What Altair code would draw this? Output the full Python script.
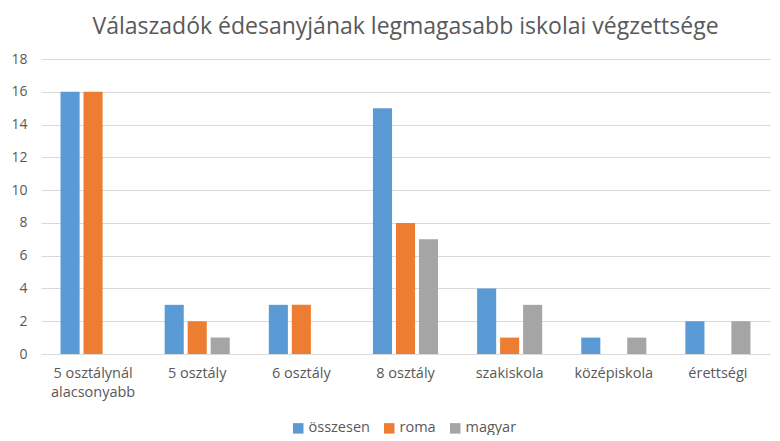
import altair as alt
import pandas as pd

categories = ["5 osztálynál alacsonyabb", "5 osztály", "6 osztály", "8 osztály",
              "szakiskola", "középiskola", "érettségi"]
series = ["összesen", "roma", "magyar"]
osszesen = [16, 3, 3, 15, 4, 1, 2]
roma = [16, 2, 3, 8, 1, 0, 0]
magyar = [0, 1, 0, 7, 3, 1, 2]
colors = ["#5B9BD5", "#ED7D31", "#A5A5A5"]

rows = []
for i, c in enumerate(categories):
    for s, vals in zip(series, [osszesen, roma, magyar]):
        rows.append({"cat": c, "series": s, "value": vals[i]})
df = pd.DataFrame(rows)

font = "Open Sans"
grey = "#595959"

chart = alt.Chart(df).mark_bar().encode(
    x=alt.X("cat:N", sort=categories, title=None,
            scale=alt.Scale(paddingInner=0.375, paddingOuter=0.1875),
            axis=alt.Axis(labelAngle=0, ticks=False, domainColor="#D9D9D9",
                          labelColor=grey, labelFontSize=14.5, labelFont=font,
                          labelPadding=12, labelLineHeight=19,
                          labelExpr="datum.label == '5 osztálynál alacsonyabb' ? ['5 osztálynál', 'alacsonyabb'] : datum.label")),
    xOffset=alt.XOffset("series:N", sort=series,
                        scale=alt.Scale(paddingInner=0.17, paddingOuter=0)),
    y=alt.Y("value:Q", title=None,
            scale=alt.Scale(domain=[0, 18]),
            axis=alt.Axis(values=list(range(0, 19, 2)), ticks=False, domain=False,
                          gridColor="#D9D9D9", labelColor=grey, labelFontSize=14,
                          labelFont=font, labelPadding=14)),
    color=alt.Color("series:N", sort=series,
                    scale=alt.Scale(domain=series, range=colors),
                    legend=alt.Legend(title=None, orient="none", direction="horizontal",
                                      legendX=250, legendY=362,
                                      symbolType="square", symbolSize=110,
                                      symbolStrokeWidth=0, symbolOffset=0,
                                      labelFontSize=14.5, labelFont=font, labelColor=grey,
                                      columnPadding=12, labelOffset=3)),
).properties(
    width=729, height=295,
    title=alt.TitleParams("Válaszadók édesanyjának legmagasabb iskolai végzettsége",
                          fontSize=23, font=font, fontWeight="normal", color=grey,
                          anchor="middle", offset=13),
    autosize=alt.AutoSizeParams(type="none"),
    padding={"left": 33, "top": 51, "right": 2, "bottom": 81},
).configure_view(stroke=None)

chart.save("out.html", embed_options={"renderer": "svg", "actions": False})
